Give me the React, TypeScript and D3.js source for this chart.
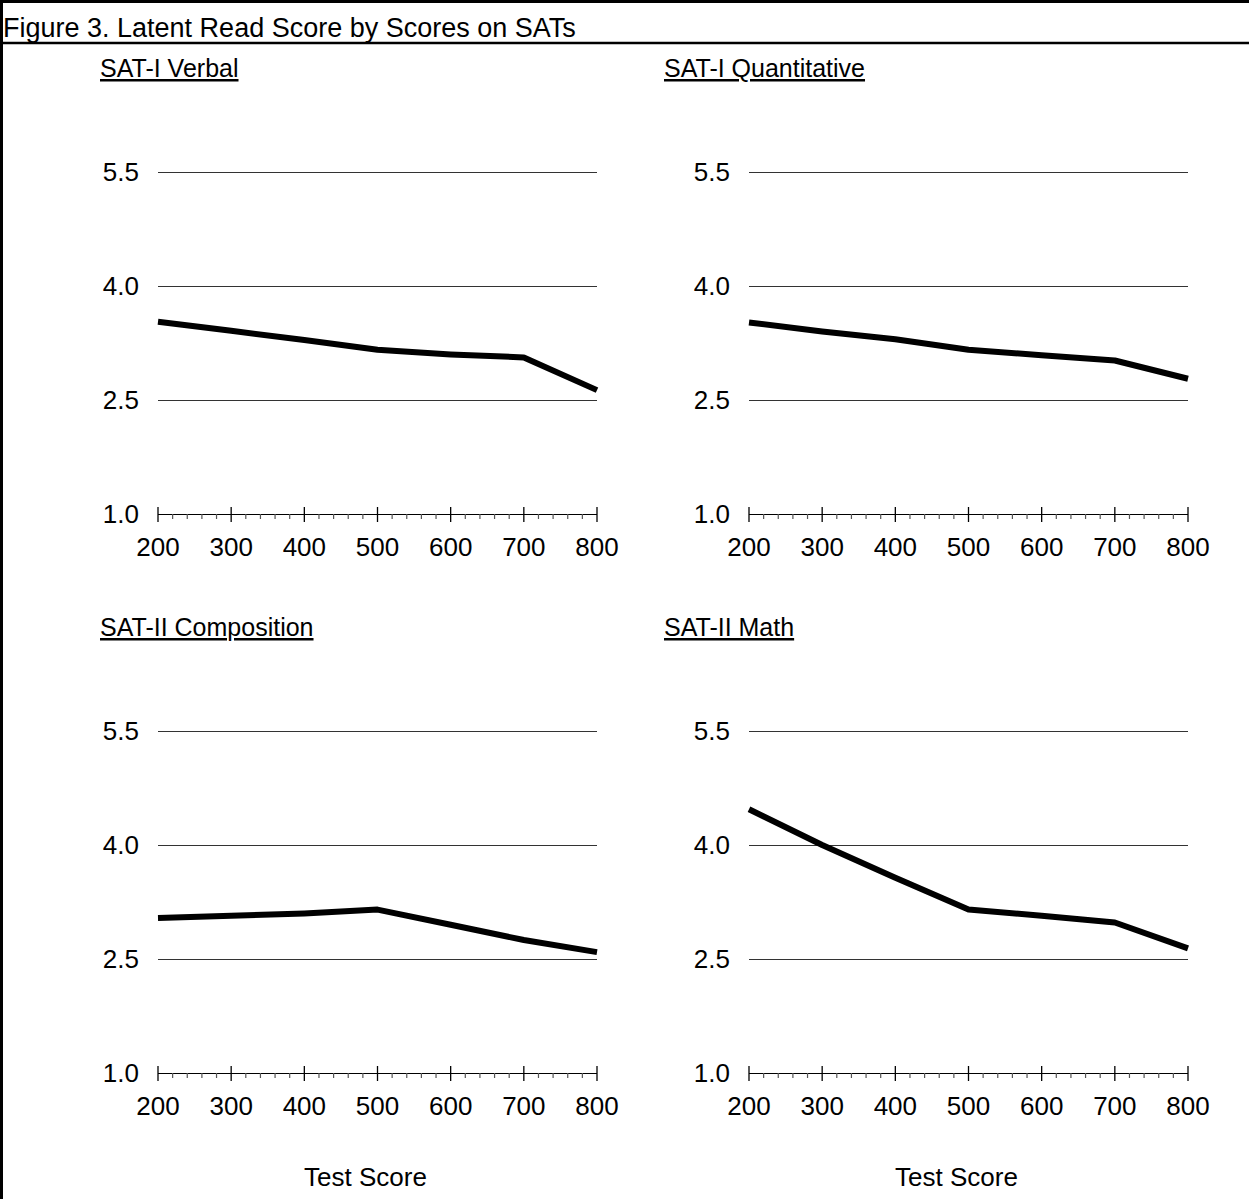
import React from "react";
import * as d3 from "d3";

const title = "Figure 3. Latent Read Score by Scores on SATs";
const panelTitles = ["SAT-I Verbal", "SAT-I Quantitative", "SAT-II Composition", "SAT-II Math"];
const xScores = [200, 300, 400, 500, 600, 700, 800];
const verbal = [3.53, 3.41, 3.29, 3.16, 3.1, 3.06, 2.63];
const quantitative = [3.52, 3.4, 3.3, 3.16, 3.09, 3.02, 2.78];
const composition = [3.04, 3.07, 3.1, 3.15, 2.95, 2.75, 2.59];
const math = [4.47, 4.0, 3.57, 3.15, 3.07, 2.98, 2.64];
const seriesList = [verbal, quantitative, composition, math];
const yTicks = [1.0, 2.5, 4.0, 5.5];
const xTicks = [200, 300, 400, 500, 600, 700, 800];
const xLabel = "Test Score";

const W = 1249;
const H = 1199;
const FONT = "'Liberation Sans', Arial, sans-serif";

function Panel({ idx }: { idx: number }) {
  const col = idx % 2;
  const row = Math.floor(idx / 2);
  const dx = col * 591;
  const dy = row * 559;
  const x = d3.scaleLinear().domain([200, 800]).range([158 + dx, 597 + dx]);
  const y = d3.scaleLinear().domain([1, 5.5]).range([514 + dy, 172 + dy]);
  const data = seriesList[idx];
  const line = d3
    .line<number>()
    .x((_, i) => x(xScores[i]))
    .y((d) => y(d));
  const minor = d3.range(200, 801, 20).filter((v) => v % 100 !== 0);
  const axisY = y(1);
  const subX = col === 0 ? 100 : 664;
  return (
    <g>
      <text x={subX} y={77 + dy} fontSize={25} fontFamily={FONT} textDecoration="underline">
        {panelTitles[idx]}
      </text>
      {yTicks.map((t) => (
        <g key={t}>
          {t > 1 && (
            <line
              x1={x(200)}
              x2={x(800)}
              y1={y(t) + 0.5}
              y2={y(t) + 0.5}
              stroke="#333"
              strokeWidth={1}
              shapeRendering="crispEdges"
            />
          )}
          <text x={139 + dx} y={y(t) + 9} fontSize={26} fontFamily={FONT} textAnchor="end">
            {t.toFixed(1)}
          </text>
        </g>
      ))}
      <line
        x1={x(200)}
        x2={x(800)}
        y1={axisY + 0.5}
        y2={axisY + 0.5}
        stroke="#000"
        strokeWidth={1}
        shapeRendering="crispEdges"
      />
      {xTicks.map((t) => (
        <g key={t}>
          <line
            x1={x(t)}
            x2={x(t)}
            y1={axisY - 7}
            y2={axisY + 8}
            stroke="#000"
            strokeWidth={1.3}
          />
          <text x={x(t)} y={axisY + 42} fontSize={26} fontFamily={FONT} textAnchor="middle">
            {t}
          </text>
        </g>
      ))}
      {minor.map((t) => (
        <line key={t} x1={x(t)} x2={x(t)} y1={axisY} y2={axisY + 5} stroke="#555" strokeWidth={1.2} />
      ))}
      <path
        d={line(data) || ""}
        fill="none"
        stroke="#000"
        strokeWidth={6}
        strokeLinejoin="round"
        strokeLinecap="butt"
      />
      {row === 1 && (
        <text x={x(500) - 12} y={1186} fontSize={26} fontFamily={FONT} textAnchor="middle">
          {xLabel}
        </text>
      )}
    </g>
  );
}

export default function App() {
  return (
    <svg
      width={W}
      height={H}
      style={{ position: "absolute", left: 0, top: 0, background: "#fff" }}
    >
      <rect x={0} y={0} width={W} height={H} fill="#fff" />
      <line x1={0} x2={W} y1={1.5} y2={1.5} stroke="#000" strokeWidth={3} />
      <line x1={1.5} x2={1.5} y1={0} y2={H} stroke="#000" strokeWidth={3} />
      <line x1={0} x2={W} y1={43} y2={43} stroke="#000" strokeWidth={2.5} />
      <text x={3} y={37} fontSize={27} fontFamily={FONT}>
        {title}
      </text>
      {[0, 1, 2, 3].map((i) => (
        <Panel key={i} idx={i} />
      ))}
    </svg>
  );
}
